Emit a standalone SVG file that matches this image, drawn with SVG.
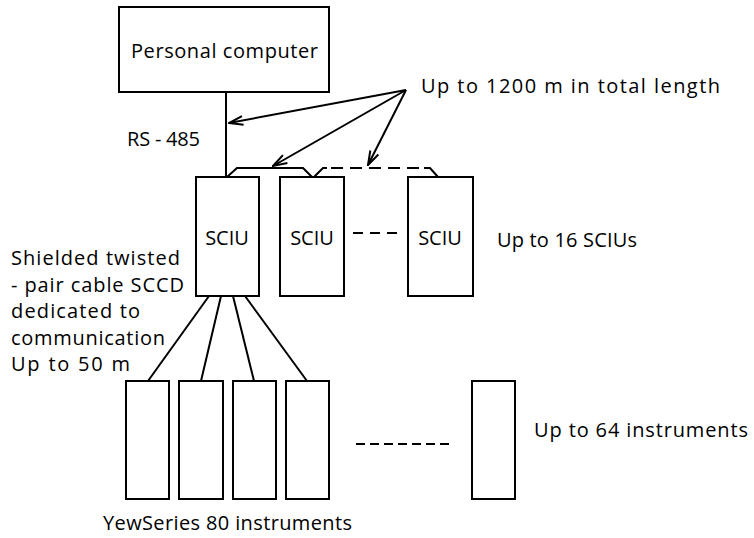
<svg xmlns="http://www.w3.org/2000/svg" width="754" height="538" viewBox="0 0 754 538">
<defs>
<style>
.box{fill:#fff;stroke:#000;stroke-width:2}
.ln{fill:none;stroke:#000;stroke-width:2}
.dash{fill:none;stroke:#000;stroke-width:2;stroke-dasharray:12 7}
.t{font-family:"Open Sans","DejaVu Sans",sans-serif;font-size:20px;fill:#000}
.m{text-anchor:middle}
</style>
<marker id="ah" markerWidth="16" markerHeight="12" refX="15" refY="6" orient="auto" markerUnits="userSpaceOnUse">
<path d="M1,1.5 L15,6 L1,10.5" fill="none" stroke="#000" stroke-width="2"/>
</marker>
</defs>
<rect width="754" height="538" fill="#fff"/>
<g id="pc">
<rect class="box" x="119" y="7" width="210" height="85"/>
<text class="t" x="131" y="58" textLength="187" lengthAdjust="spacing">Personal computer</text>
</g>
<g id="sciu1">
<rect class="box" x="196" y="177" width="63" height="119"/>
<text class="t m" x="227" y="245">SCIU</text>
</g>
<g id="sciu2">
<rect class="box" x="280" y="177" width="64" height="119"/>
<text class="t m" x="312" y="245">SCIU</text>
</g>
<g id="sciu3">
<rect class="box" x="408" y="177" width="65" height="119"/>
<text class="t m" x="440" y="245">SCIU</text>
</g>
<g id="inst1"><rect class="box" x="126" y="381" width="43" height="118"/></g>
<g id="inst2"><rect class="box" x="179" y="381" width="44" height="118"/></g>
<g id="inst3"><rect class="box" x="233" y="381" width="43" height="118"/></g>
<g id="inst4"><rect class="box" x="286" y="381" width="43" height="118"/></g>
<g id="inst64"><rect class="box" x="472" y="381" width="43" height="118"/></g>
<g id="connectors">
<line class="ln" x1="226" y1="92" x2="226" y2="177"/>
<polyline class="ln" points="227,177 237,168 303,168 312,177"/>
<polyline class="ln" points="314,177 323,168 327,168"/>
<line class="dash" x1="331" y1="168" x2="422" y2="168"/>
<polyline class="ln" points="424,168 430,168 438,177"/>
<line class="dash" x1="353" y1="233" x2="399" y2="233" style="stroke-dasharray:10 7"/>
<line class="ln" x1="209" y1="296" x2="148" y2="381"/>
<line class="ln" x1="221" y1="296" x2="201" y2="381"/>
<line class="ln" x1="233" y1="296" x2="254" y2="381"/>
<line class="ln" x1="245" y1="296" x2="307" y2="381"/>
<line class="dash" x1="356" y1="444" x2="453" y2="444" style="stroke-dasharray:9 5"/>
<line class="ln" x1="406" y1="90" x2="229" y2="123" marker-end="url(#ah)"/>
<line class="ln" x1="406" y1="90" x2="273" y2="166" marker-end="url(#ah)"/>
<line class="ln" x1="406" y1="90" x2="368" y2="165" marker-end="url(#ah)"/>
</g>
<g id="labels">
<text class="t" x="421" y="93" textLength="299" lengthAdjust="spacing">Up to 1200 m in total length</text>
<text class="t" x="127" y="146" textLength="73" lengthAdjust="spacing">RS - 485</text>
<text class="t" x="497" y="247" textLength="140" lengthAdjust="spacing">Up to 16 SCIUs</text>
<text class="t" x="11" y="265" textLength="169" lengthAdjust="spacing">Shielded twisted</text>
<text class="t" x="11" y="292" textLength="173" lengthAdjust="spacing">- pair cable SCCD</text>
<text class="t" x="11" y="318" textLength="129" lengthAdjust="spacing">dedicated to</text>
<text class="t" x="11" y="345" textLength="154" lengthAdjust="spacing">communication</text>
<text class="t" x="11" y="371" textLength="119" lengthAdjust="spacing">Up to 50 m</text>
<text class="t" x="534" y="437" textLength="214" lengthAdjust="spacing">Up to 64 instruments</text>
<text class="t" x="103" y="530" textLength="249" lengthAdjust="spacing">YewSeries 80 instruments</text>
</g>
</svg>
